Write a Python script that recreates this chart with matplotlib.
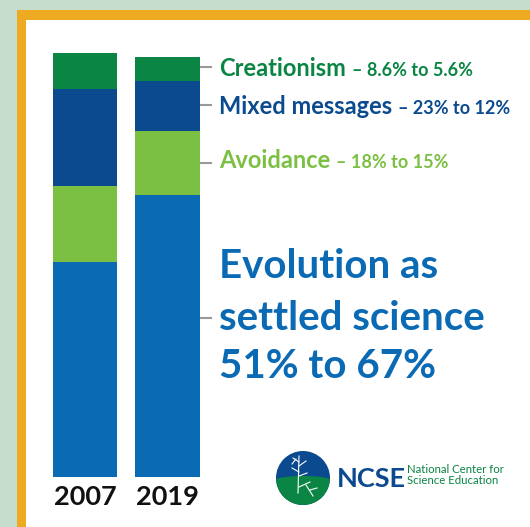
import matplotlib.pyplot as plt
from matplotlib.patches import Rectangle, Circle, Polygon
import numpy as np

years = ["2007", "2019"]
categories = ["Evolution", "Avoidance", "Mixed messages", "Creationism"]
evolution = [51, 67]
avoidance = [18, 15]
mixed = [23, 12]
creationism = [8.6, 5.6]
colors = ["#0a6ab4", "#7bc043", "#0b4a8e", "#0a8543"]

W, H = 530, 527
fig = plt.figure(figsize=(W / 100, H / 100), dpi=100)
fig.patch.set_facecolor("#c6ddcd")

# overlay in pixel coords for frame, labels and logo
ov = fig.add_axes([0, 0, 1, 1])
ov.set_xlim(0, W)
ov.set_ylim(H, 0)
ov.axis("off")
ov.add_patch(Rectangle((17, 10), 540, 540, facecolor="#eeab22", edgecolor="none"))
ov.add_patch(Rectangle((26, 20), 540, 540, facecolor="white", edgecolor="none"))

# bars
ax = fig.add_axes([43.75 / W, 50 / H, 165 / W, 424 / H])
ax.set_xlim(-0.5, 1.5)
ax.set_ylim(0, 100.6)
ax.axis("off")
x = np.arange(len(years))
series = [evolution, avoidance, mixed, creationism]
bottom = np.zeros(len(years))
for vals, c in zip(series, colors):
    vals = np.array(vals, dtype=float)
    ax.bar(x, vals, bottom=bottom, width=0.776, color=c, edgecolor="none")
    bottom += vals

# leader lines next to the 2019 bar
fsans = ["Lato", "DejaVu Sans"]
label_y = [318, 163, 105, 67]
for yy in label_y:
    ov.plot([201, 211], [yy, yy], color="#9a9a9a", lw=1.5)

def label(y, name, vals, color, size_big=17, size_small=13):
    t = ov.text(219, y, name, color=color, fontsize=size_big, fontweight="bold",
                family=fsans, va="baseline", ha="left")
    fig.canvas.draw()
    bb = t.get_window_extent()
    x2 = bb.x1 + 6
    ov.text(x2, y, "\u2013 %s%% to %s%%" % vals, color=color, fontsize=size_small,
            fontweight="bold", family=fsans, va="baseline", ha="left")

label(76, "Creationism", (creationism[0], creationism[1]), colors[3])
label(114, "Mixed messages", (mixed[0], mixed[1]), colors[2])
label(168, "Avoidance", (avoidance[0], avoidance[1]), colors[1])

big = dict(color=colors[0], fontsize=29, fontweight="bold", family=fsans,
           va="baseline", ha="left")
ov.text(219, 278, "Evolution as", **big)
ov.text(219, 330, "settled science", **big)
ov.text(219, 378, "%d%% to %d%%" % (evolution[0], evolution[1]), **big)

# year labels
for xi, yr in zip(x, years):
    ax.text(xi, -6.6, yr, ha="center", va="baseline", fontsize=19.5, color="#111111",
            family=fsans, fontweight="bold")

# NCSE logo
cx, cy, r = 303, 478, 27
circ = Circle((cx, cy), r, facecolor="#0b4a8e", edgecolor="none")
ov.add_patch(circ)
th = np.linspace(0, np.pi, 60)
hill_x = np.concatenate([[cx - r - 2], cx - r * np.cos(th), [cx + r + 2, cx + r + 2, cx - r - 2]])
hill_y = np.concatenate([[cy + 2], cy + 2 - 4 * np.sin(th), [cy + 2, cy + r + 2, cy + r + 2]])
hill = Polygon(np.column_stack([hill_x, hill_y]), facecolor="#0a8543", edgecolor="none")
ov.add_patch(hill)
hill.set_clip_path(circ)
tree = [((298, 493), (299, 456)), ((299, 462), (293, 458)), ((299, 466), (306, 461)),
        ((299, 472), (292, 468)), ((299, 476), (307, 473)), ((299, 487), (310, 482)),
        ((306, 485), (313, 496)), ((310, 490), (317, 488)), ((296, 459), (292, 464))]
for (a, b) in tree:
    ov.plot([a[0], b[0]], [a[1], b[1]], color="white", lw=0.8)
ov.text(337, 487, "NCSE", color="#0b4a8e", fontsize=19.5, fontweight="bold",
        family=["Liberation Sans Narrow", "Lato", "DejaVu Sans"], va="baseline")
ov.text(407, 473, "National Center for", color="#0a8543", fontsize=8.2,
        family=fsans, va="baseline")
ov.text(407, 484, "Science Education", color="#0a8543", fontsize=8.2,
        family=fsans, va="baseline")

fig.savefig("out.png", dpi=100, facecolor=fig.get_facecolor())
